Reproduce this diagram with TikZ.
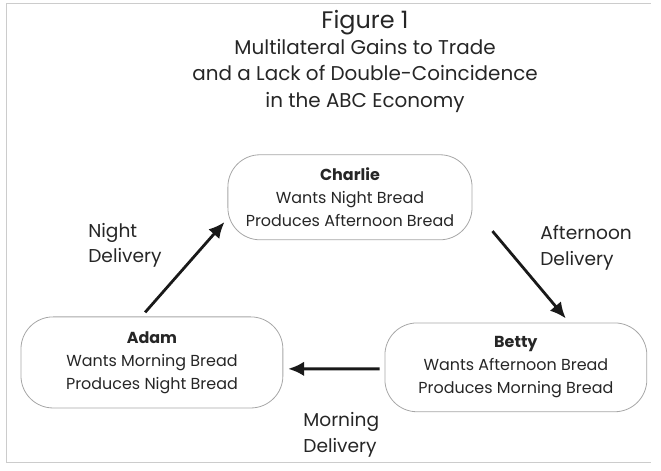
\documentclass[tikz,border=0pt]{standalone}
\usepackage{fontspec}
\setmainfont{Poppins}
\usetikzlibrary{arrows.meta, positioning, calc}

\tikzset{
  person/.style={draw=gray!70, line width=0.6pt, rounded corners=0.85cm,
    minimum width=6.46cm, minimum height=2.25cm, align=center,
    font=\fontsize{12}{17.2}\selectfont, text=black!85},
  delivery/.style={align=left, anchor=west, inner sep=0pt,
    font=\fontsize{14}{19.5}\selectfont, text=black!85},
  flow/.style={-{Latex[length=12pt,width=11pt]}, line width=2.1pt, black!90},
}

\begin{document}
\begin{tikzpicture}
\useasboundingbox (0,0) rectangle (17.49,12.46);

% Frame
\draw[gray!40, line width=0.75pt] (17.22,12.36) -- (0.17,12.36) -- (0.17,0.21) -- (17.22,0.21);

% Title
\node[align=center, inner sep=0pt, text=black!85, font=\fontsize{15}{19.9}\selectfont] (title) at (9.66,10.84)
  {{\fontsize{18}{19.9}\selectfont Figure 1}\\Multilateral Gains to Trade\\and a Lack of Double-Coincidence\\in the ABC Economy};

% Charlie
\node[person] (charlie) at (9.26,7.24) {\textbf{Charlie}\\Wants Night Bread\\Produces Afternoon Bread};

% Adam
\node[person, minimum width=6.93cm, minimum height=2.41cm] (adam) at (4.02,2.87) {\textbf{Adam}\\Wants Morning Bread\\Produces Night Bread};

% Betty
\node[person, minimum width=6.93cm, minimum height=2.35cm] (betty) at (13.65,2.74) {\textbf{Betty}\\Wants Afternoon Bread\\Produces Morning Bread};

% Deliveries
\draw[flow] ($(adam.north)+(-0.18,0.11)$) -- ($(charlie.south west)+(-0.08,0.48)$);
\draw[flow] ($(charlie.south east)+(0.53,0.24)$) -- ($(betty.north)+(1.32,0.11)$);
\draw[flow] ($(betty.west)+(-0.13,-0.04)$) -- ($(adam.east)+(0.13,-0.17)$);

% Labels
\node[delivery] (nightlbl) at (2.33,5.97) {Night\\Delivery};
\node[delivery] (afternoonlbl) at (14.29,5.90) {Afternoon\\Delivery};
\node[delivery] (morninglbl) at (8.02,0.95) {Morning\\Delivery};
\end{tikzpicture}
\end{document}
